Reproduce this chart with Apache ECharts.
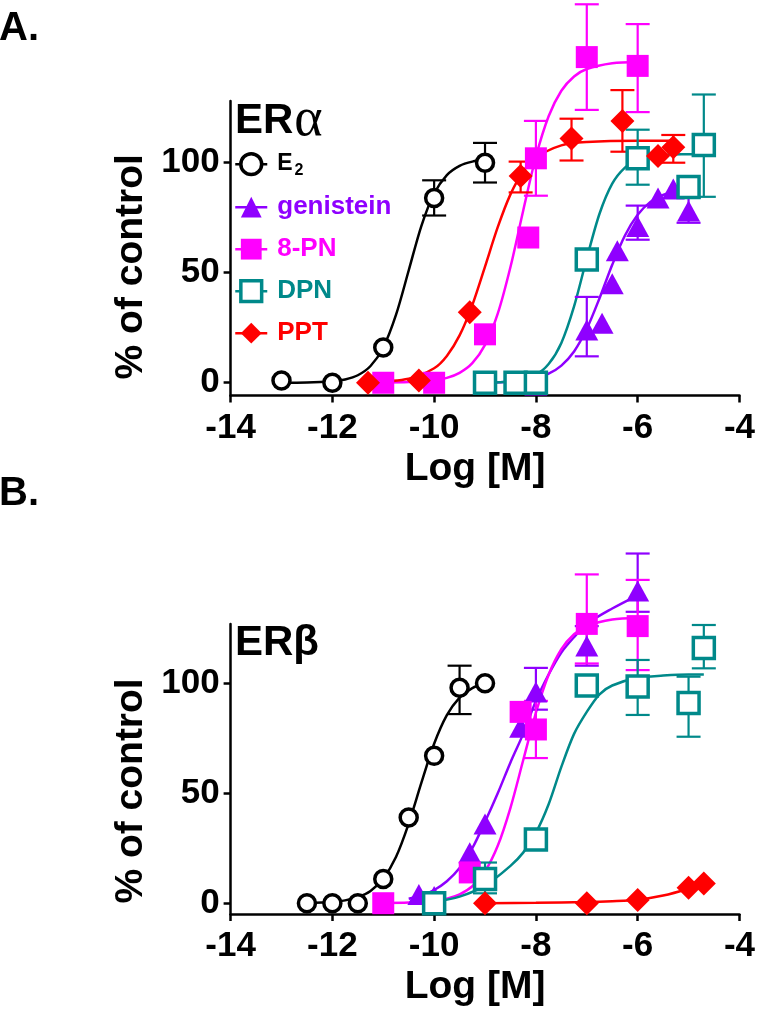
<!DOCTYPE html>
<html><head><meta charset="utf-8">
<script src="https://cdn.jsdelivr.net/npm/echarts@6/dist/echarts.min.js"></script>
<style>html,body{margin:0;padding:0;background:#fff}#c{width:758px;height:1018px}</style>
</head><body><div id="c"></div>
<script>
// ---------- DATA ----------
const compounds = ['E2', 'genistein', '8-PN', 'DPN', 'PPT'];
const xTicks = [-14, -12, -10, -8, -6, -4];
const yTicks = [0, 50, 100];

// Panel A (ER alpha): measured points [logM, % of control]
const e2A = [[-13, 1], [-12, 0], [-11, 16], [-10, 84], [-9, 100]];
const genA = [[-9, 0], [-8, -1], [-7, 24], [-6.7, 27], [-6.5, 45], [-6.4, 60], [-6, 71], [-5.6, 84], [-5.3, 88], [-5, 78]];
const pnA = [[-11, 0], [-10, 0], [-9, 22], [-8.15, 66], [-8, 102], [-7, 148], [-6, 144]];
const dpnA = [[-9, 0], [-8.4, 0], [-8, 0], [-7, 56], [-6, 102], [-5, 89], [-4.7, 108]];
const pptA = [[-11.3, 0], [-10.3, 1], [-9.3, 32], [-8.3, 94], [-7.3, 111], [-6.3, 119], [-5.6, 103], [-5.3, 107]];
// Panel A error bars [logM, low, high]
const e2AErr = [[-10, 76, 92], [-9, 91, 109]];
const genAErr = [[-7, 12, 39], [-6, 65, 80.5], [-5, 72.7, 84.3]];
const pnAErr = [[-8, 85, 119], [-7, 124, 172], [-6, 123, 163]];
const dpnAErr = [[-6, 90, 115], [-4.7, 84.5, 131]];
const pptAErr = [[-8.3, 86.5, 100.5], [-7.3, 101, 120], [-6.3, 105, 133], [-5.3, 100, 112.6]];
// Panel A fitted curves
const e2AFit = [[-13, 0], [-12.5, 0.1], [-12, 0.7], [-11.75, 1.5], [-11.5, 3.4], [-11.25, 7.6], [-11, 16], [-10.75, 30.8], [-10.5, 51], [-10.25, 71.3], [-10, 86], [-9.75, 94.4], [-9.5, 98.6], [-9.25, 100.5], [-9, 101.3]];
const genAFit = [[-9, 0.1], [-8.5, 0.5], [-8, 2.1], [-7.75, 4.1], [-7.5, 7.8], [-7.25, 14.2], [-7, 24.5], [-6.75, 38.4], [-6.5, 53.6], [-6.25, 66.9], [-6, 76.3], [-5.75, 82.2], [-5.5, 85.4], [-5.25, 87.2], [-5, 88.1]];
const pnAFit = [[-11, 0.1], [-10.5, 0.3], [-10, 1.1], [-9.75, 2.2], [-9.5, 4.5], [-9.25, 8.9], [-9, 17.2], [-8.75, 31.4], [-8.5, 52.6], [-8.25, 78.2], [-8, 102.7], [-7.75, 121.1], [-7.5, 132.7], [-7.25, 139.2], [-7, 142.6], [-6.5, 145.2], [-6, 145.8]];
const dpnAFit = [[-9, 0.1], [-8.5, 0.7], [-8, 3.8], [-7.75, 8.5], [-7.5, 18.1], [-7.25, 34.7], [-7, 56.5], [-6.75, 76.8], [-6.5, 90.5], [-6.25, 97.8], [-6, 101.3], [-5.5, 103.5], [-5, 103.9], [-4.7, 104]];
const pptAFit = [[-11.3, 0.2], [-10.5, 1.8], [-10, 6.6], [-9.75, 12.2], [-9.5, 21.5], [-9.25, 35.3], [-9, 52.8], [-8.75, 70.7], [-8.5, 85.6], [-8.25, 96], [-8, 102.3], [-7.5, 107.9], [-7, 109.4], [-6, 110], [-5.3, 110]];

// Panel B (ER beta)
const e2B = [[-12.5, 0], [-12, 0], [-11.5, 0], [-11, 11], [-10.5, 39], [-10, 67], [-9.5, 98], [-9, 100]];
const genB = [[-10.3, 4], [-10, 3], [-9.3, 23], [-9, 36], [-8.3, 80], [-8, 96], [-7, 117], [-6, 142]];
const pnB = [[-11, 0], [-9.3, 14], [-8.3, 87], [-8, 79], [-7, 127], [-6, 126]];
const dpnB = [[-10, 0], [-9, 11], [-8, 29], [-7, 99], [-6, 98.5], [-5, 91], [-4.7, 116]];
const pptB = [[-9, 0], [-7, 0], [-6, 1.5], [-5, 7], [-4.7, 9]];
const e2BErr = [[-9.5, 86, 108]];
const genBErr = [[-8, 88, 107], [-7, 108, 126], [-6, 132.5, 159]];
const pnBErr = [[-8, 66, 92], [-7, 109, 149.5], [-6, 106, 147]];
const dpnBErr = [[-9, 4.5, 18.5], [-6, 85.6, 110.6], [-5, 75.7, 103], [-4.7, 106.8, 126.5]];
const pptBErr = [];
const e2BFit = [[-12.5, 0.1], [-12, 0.6], [-11.75, 1.3], [-11.5, 2.7], [-11.25, 5.6], [-11, 11.2], [-10.75, 21], [-10.5, 36.2], [-10.25, 54.8], [-10, 72.5], [-9.75, 85.5], [-9.5, 93.5], [-9.25, 97.8], [-9, 100]];
const genBFit = [[-10.5, 2], [-10.25, 3.5], [-10, 6], [-9.75, 10], [-9.5, 16], [-9.25, 25], [-9, 37], [-8.75, 50], [-8.5, 64], [-8.25, 77], [-8, 92], [-7.75, 104], [-7.5, 114], [-7.25, 121], [-7, 127], [-6.5, 134], [-6, 140]];
const pnBFit = [[-11, 0.1], [-10.5, 0.3], [-10, 1], [-9.75, 2], [-9.5, 4], [-9.25, 7.7], [-9, 14.5], [-8.75, 26.1], [-8.5, 43.4], [-8.25, 65], [-8, 86.6], [-7.75, 103.9], [-7.5, 115.5], [-7.25, 122.3], [-7, 126], [-6.5, 129], [-6, 129.7]];
const dpnBFit = [[-10, 0.5], [-9.5, 3], [-9, 8], [-8.5, 17], [-8.25, 23], [-8, 32], [-7.75, 45], [-7.5, 62], [-7.25, 77], [-7, 87], [-6.75, 95], [-6.5, 99], [-6, 102.5], [-5.5, 103.5], [-5, 104], [-4.7, 104]];
const pptBFit = [[-9, 0], [-8, 0.2], [-7, 0.5], [-6.5, 0.9], [-6, 1.6], [-5.5, 3.5], [-5, 6.6], [-4.7, 9]];

// ---------- STYLE ----------
const FONT = '"Liberation Sans", Arial, sans-serif';
const colors = { 'E2': '#000000', 'genistein': '#8F00FF', '8-PN': '#FF00FF', 'DPN': '#00898A', 'PPT': '#FF0000' };
const symbols = {
  'E2': { symbol: 'circle', size: 17, style: { color: '#fff', borderColor: '#000', borderWidth: 3.5, opacity: 1 } },
  'genistein': { symbol: 'triangle', size: [23, 21], style: { color: '#8F00FF', opacity: 1 } },
  '8-PN': { symbol: 'rect', size: 22, style: { color: '#FF00FF', opacity: 1 } },
  'DPN': { symbol: 'rect', size: 21, style: { color: '#fff', borderColor: '#00898A', borderWidth: 3.5, opacity: 1 } },
  'PPT': { symbol: 'diamond', size: 24, style: { color: '#FF0000', opacity: 1 } }
};
const panels = [
  { pts: [e2A, genA, pnA, dpnA, pptA], err: [e2AErr, genAErr, pnAErr, dpnAErr, pptAErr], fit: [e2AFit, genAFit, pnAFit, dpnAFit, pptAFit] },
  { pts: [e2B, genB, pnB, dpnB, pptB], err: [e2BErr, genBErr, pnBErr, dpnBErr, pptBErr], fit: [e2BFit, genBFit, pnBFit, dpnBFit, pptBFit] }
];

const series = [];
// fitted curves first (panel A curves carry the legend icons)
panels.forEach((p, pi) => {
  compounds.forEach((c, ci) => {
    series.push({
      type: 'line', name: c, xAxisIndex: pi, yAxisIndex: pi, data: p.fit[ci],
      smooth: 0.3, showSymbol: false, symbol: symbols[c].symbol, symbolSize: symbols[c].size,
      itemStyle: symbols[c].style, lineStyle: { color: colors[c], width: 2.5 },
      clip: false, z: 2, silent: true
    });
  });
});
panels.forEach((p, pi) => {
  compounds.forEach((c, ci) => {
    series.push({
      type: 'custom', name: c, xAxisIndex: pi, yAxisIndex: pi, data: p.err[ci], clip: false, z: 3, silent: true,
      encode: { x: 0, y: [1, 2] },
      renderItem: (params, api) => {
        const x = api.value(0), lo = api.value(1), hi = api.value(2);
        const a = api.coord([x, lo]), b = api.coord([x, hi]);
        const w = 12;
        const st = { stroke: colors[c], lineWidth: 2.2, fill: null };
        return { type: 'group', children: [
          { type: 'line', shape: { x1: a[0], y1: a[1], x2: b[0], y2: b[1] }, style: st },
          { type: 'line', shape: { x1: a[0] - w, y1: a[1], x2: a[0] + w, y2: a[1] }, style: st },
          { type: 'line', shape: { x1: b[0] - w, y1: b[1], x2: b[0] + w, y2: b[1] }, style: st }
        ] };
      }
    });
  });
});
panels.forEach((p, pi) => {
  compounds.forEach((c, ci) => {
    series.push({
      type: 'scatter', name: c, xAxisIndex: pi, yAxisIndex: pi, data: p.pts[ci],
      symbol: symbols[c].symbol, symbolSize: symbols[c].size, itemStyle: symbols[c].style,
      clip: false, z: 4, silent: true
    });
  });
});

function xAxis(gi) {
  return {
    type: 'value', gridIndex: gi, min: -14, max: -4, interval: 2,
    name: 'Log [M]', nameLocation: 'middle', nameGap: 54,
    nameTextStyle: { fontSize: 39, fontWeight: 'bold', color: '#000', fontFamily: FONT, padding: [0, 20, 0, 0] },
    axisLine: { onZero: false, lineStyle: { color: '#000', width: 2.5 } },
    axisTick: { length: 7, lineStyle: { color: '#000', width: 2.5 } },
    axisLabel: { fontSize: 35, fontWeight: 'bold', color: '#000', fontFamily: FONT, margin: 15, customValues: xTicks },
    splitLine: { show: false }
  };
}
function yAxis(gi, min, max, shift) {
  return {
    type: 'value', gridIndex: gi, min: min, max: max,
    name: '% of control', nameLocation: 'middle', nameGap: 76, nameRotate: 90,
    nameTextStyle: { fontSize: 39, fontWeight: 'bold', color: '#000', fontFamily: FONT, padding: [0, shift, 0, 0] },
    axisLine: { onZero: false, lineStyle: { color: '#000', width: 2.5 } },
    axisTick: { length: 7, lineStyle: { color: '#000', width: 2.5 }, customValues: yTicks },
    axisLabel: { fontSize: 35, fontWeight: 'bold', color: '#000', fontFamily: FONT, margin: 11, customValues: yTicks },
    splitLine: { show: false }
  };
}

const option = {
  animation: false,
  backgroundColor: '#fff',
  title: [
    { text: 'A.', left: -1, top: 9, padding: 0, textStyle: { fontSize: 40, fontWeight: 'bold', color: '#000', fontFamily: FONT } },
    { text: 'B.', left: -1, top: 474, padding: 0, textStyle: { fontSize: 40, fontWeight: 'bold', color: '#000', fontFamily: FONT } },
    { text: '{a|ER}{b|α}', left: 235, top: 94, padding: 0, textStyle: { rich: {
        a: { fontSize: 42, fontWeight: 'bold', color: '#000', fontFamily: FONT },
        b: { fontSize: 54, fontWeight: 'normal', color: '#000', fontFamily: '"Liberation Serif", "DejaVu Serif", serif', padding: [0, 0, 0, 1] } } } },
    { text: 'ERβ', left: 235, top: 622, padding: 0, textStyle: { fontSize: 42, fontWeight: 'bold', color: '#000', fontFamily: FONT } }
  ],
  legend: {
    orient: 'vertical', left: 234, top: 152, itemWidth: 32, itemHeight: 26, itemGap: 16, padding: 0,
    selectedMode: false,
    lineStyle: { width: 2.5 },
    data: compounds.map(c => ({ name: c, itemStyle: symbols[c].style, textStyle: { color: colors[c] } })),
    formatter: n => n === 'E2' ? '{e|E}{s|2}' : n,
    textStyle: { fontSize: 26, fontWeight: 'bold', fontFamily: FONT, padding: [0, 0, 0, 5],
      rich: { e: { fontSize: 23, fontWeight: 'bold', color: '#000', fontFamily: FONT },
              s: { fontSize: 16, fontWeight: 'bold', color: '#000', fontFamily: FONT, padding: [12, 0, 0, 2] } } }
  },
  grid: [
    { left: 230.6, right: 14, top: 101.1, height: 294.4, containLabel: false },
    { left: 230.6, right: 14, top: 623.9, height: 290.1, containLabel: false }
  ],
  xAxis: [xAxis(0), xAxis(1)],
  yAxis: [yAxis(0, -5.8, 128, 37), yAxis(1, -4.9, 127, 44)],
  series: series
};
const chart = echarts.init(document.getElementById('c'), null, { renderer: 'canvas' });
chart.setOption(option);
</script>
</body></html>
